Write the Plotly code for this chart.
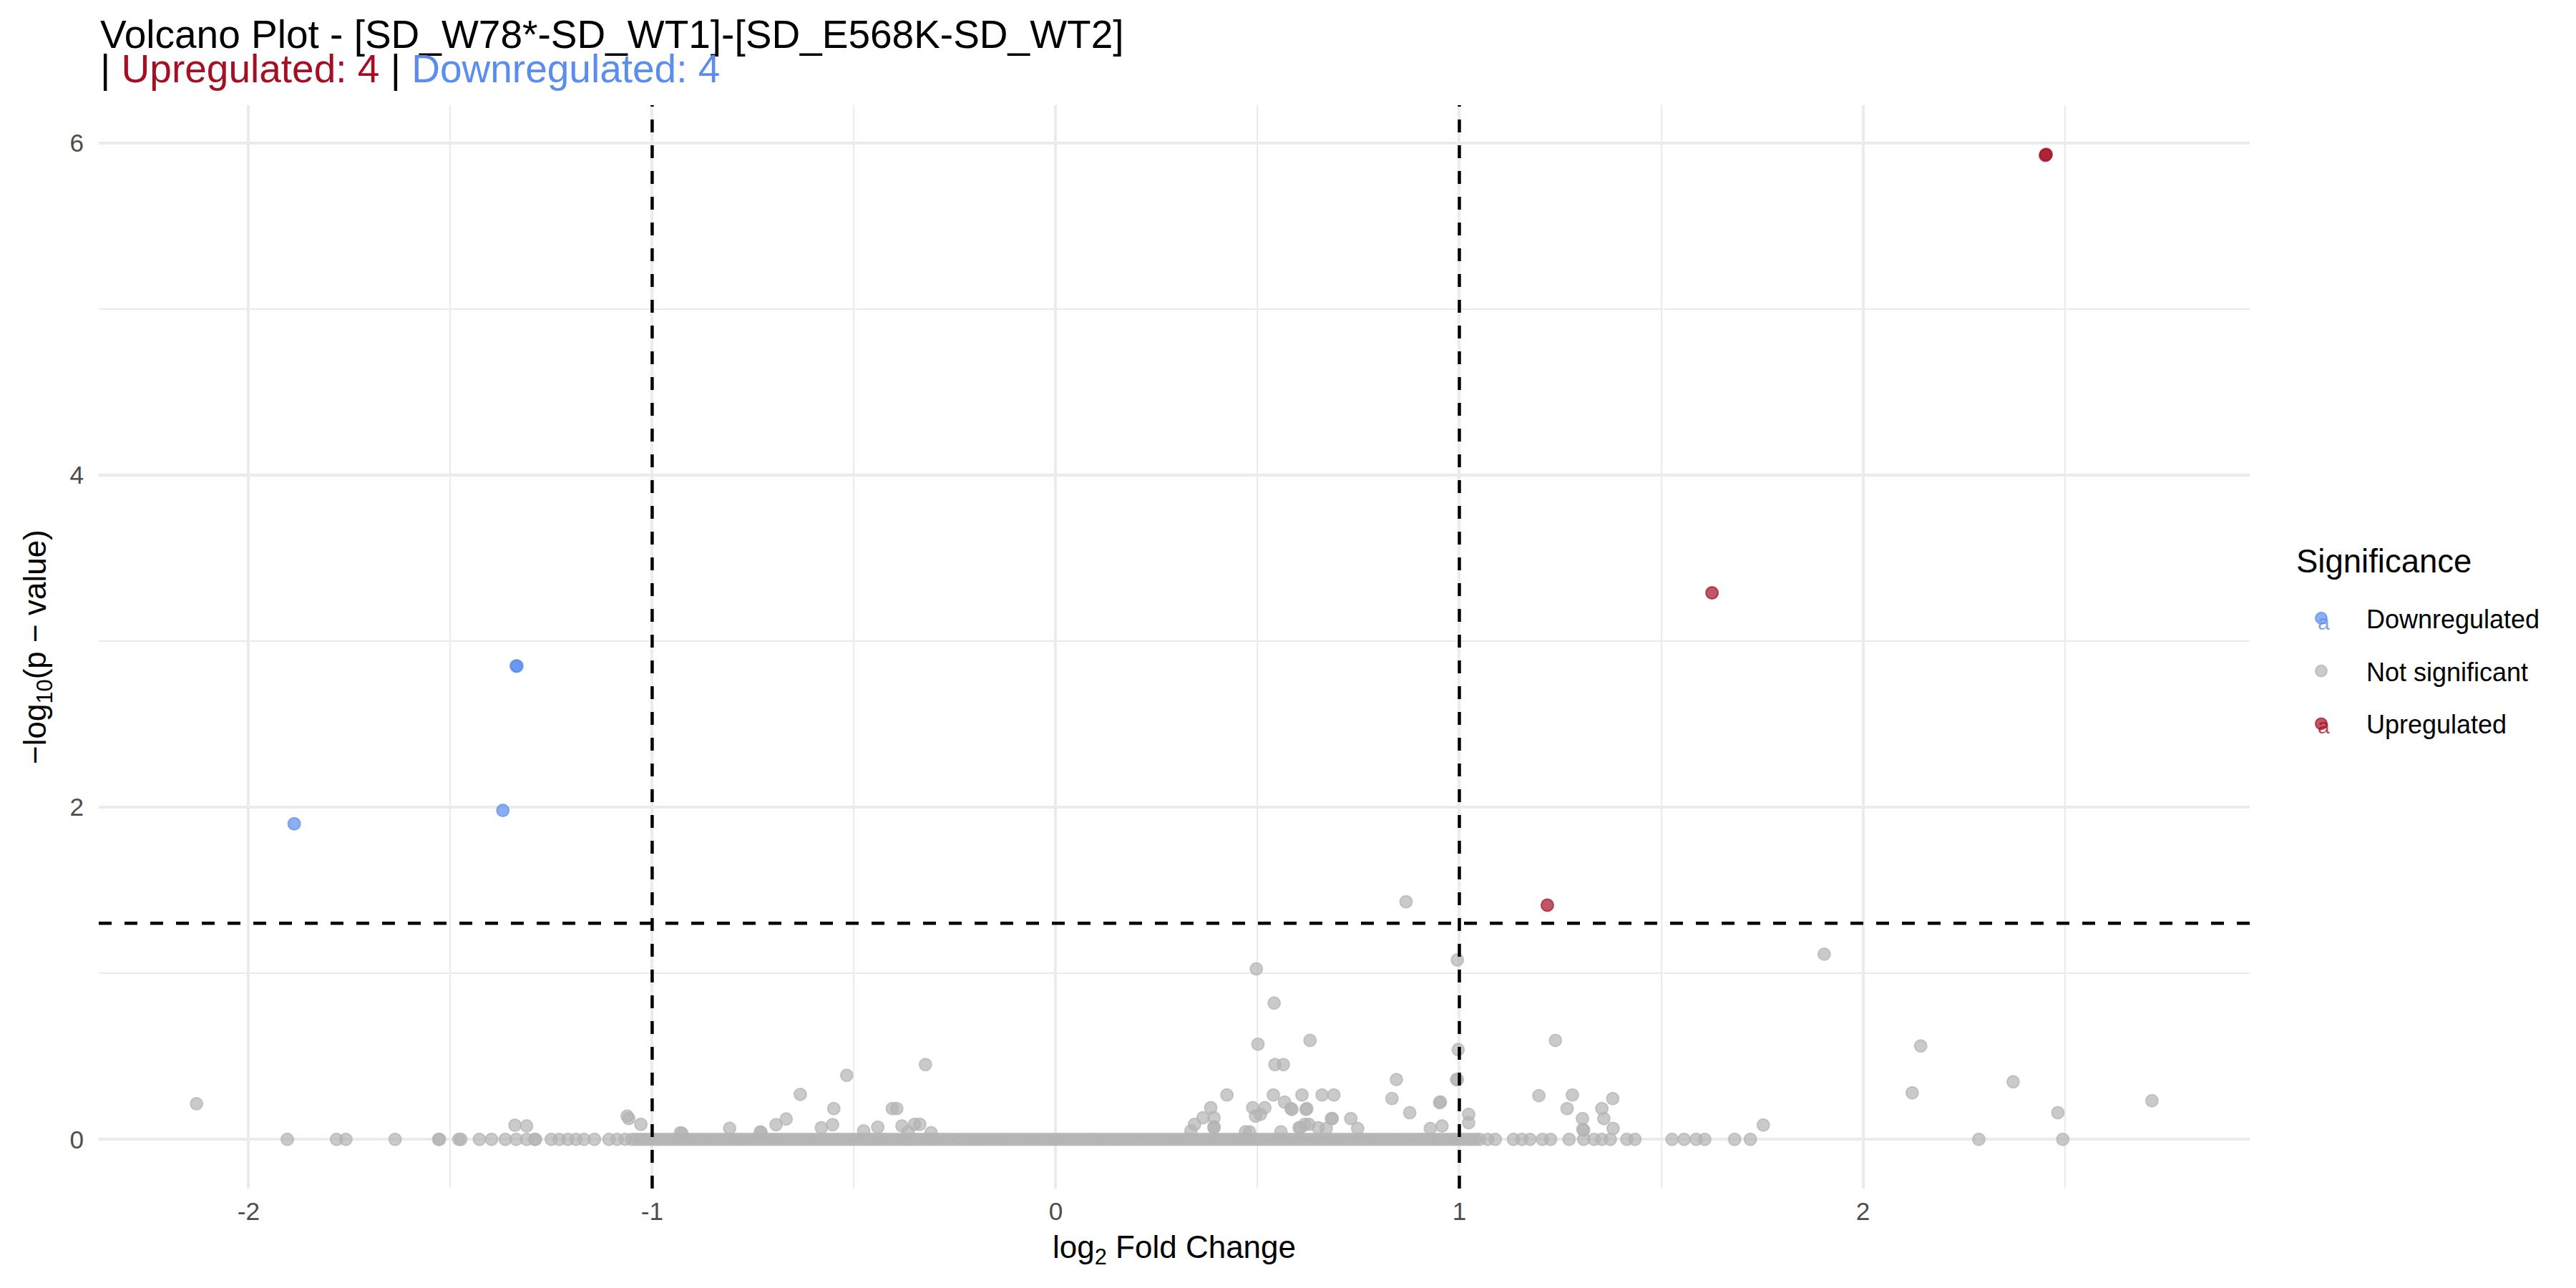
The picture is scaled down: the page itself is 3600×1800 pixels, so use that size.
import plotly.graph_objects as go
import numpy as np

# Thresholds used in the analysis
fc_cutoff = 1.0
p_cutoff = 0.05

# Significant genes
up_log2fc = [2.454, 2.452, 1.626, 1.218]
up_neglogp = [5.93, 5.925, 3.29, 1.41]
down_log2fc = [-1.337, -1.335, -1.370, -1.887]
down_neglogp = [2.85, 2.85, 1.98, 1.90]

# Non significant genes lifted off the baseline
ns_log2fc = [
	-2.129, -1.340, -1.311, -1.062, -1.058, -1.028, -0.926, -0.930, -0.808, -0.730,
	-0.732, -0.693, -0.668, -0.633, -0.581, -0.553, -0.550, -0.518, -0.476, -0.441,
	-0.405, -0.394, -0.381, -0.366, -0.350, -0.337, -0.323, -0.309,
	0.335, 0.344, 0.365, 0.392, 0.392, 0.392, 0.384, 0.424, 0.470, 0.480,
	0.488, 0.495, 0.507, 0.518, 0.497, 0.501, 0.541, 0.543, 0.564, 0.539,
	0.558, 0.567, 0.583, 0.585, 0.603, 0.606, 0.610, 0.617, 0.622, 0.620,
	0.627, 0.630, 0.650, 0.660, 0.670, 0.683, 0.685, 0.689, 0.731, 0.748,
	0.833, 0.844, 0.868, 0.877, 0.928, 0.951, 0.953, 0.957, 0.995, 0.997,
	0.995, 0.993, 1.023, 1.023, 1.197, 1.238, 1.267, 1.280, 1.305, 1.306,
	1.308, 1.353, 1.358, 1.380, 1.381, 1.753, 1.904, 2.122, 2.143, 2.372,
	2.483, 2.716,
]
ns_neglogp = [
	0.214, 0.085, 0.080, 0.140, 0.125, 0.090, 0.035, 0.040, 0.066, 0.040,
	0.045, 0.088, 0.122, 0.270, 0.070, 0.088, 0.185, 0.385, 0.050, 0.073,
	0.185, 0.185, 0.080, 0.045, 0.090, 0.090, 0.450, 0.040,
	0.050, 0.090, 0.130, 0.130, 0.070, 0.075, 0.190, 0.267, 0.045, 0.045,
	0.190, 0.140, 0.150, 0.190, 1.026, 0.573, 0.820, 0.450, 0.450, 0.267,
	0.045, 0.224, 0.185, 0.180, 0.070, 0.070, 0.267, 0.090, 0.185, 0.180,
	0.090, 0.595, 0.070, 0.267, 0.065, 0.125, 0.125, 0.267, 0.125, 0.065,
	0.245, 0.360, 1.430, 0.160, 0.065, 0.221, 0.225, 0.080, 1.080, 0.540,
	0.360, 0.360, 0.150, 0.100, 0.263, 0.595, 0.185, 0.267, 0.125, 0.060,
	0.055, 0.185, 0.125, 0.245, 0.065, 0.086, 1.115, 0.280, 0.562, 0.346,
	0.160, 0.232,
]

# Non significant genes with p-value ~ 1 (sitting on zero)
baseline_log2fc = [
	-1.904, -1.782, -1.759, -1.637, -1.529, -1.527, -1.479, -1.474, -1.428, -1.398,
	-1.364, -1.337, -1.311, -1.291, -1.289, -1.250, -1.230, -1.209, -1.189, -1.169,
	-1.143, -1.107, -1.087, -1.067,
	-1.05, -1.04, -1.03, -1.02, -1.01, -1.00, -0.99, -0.98, -0.97, -0.96,
	-0.95, -0.94, -0.93, -0.92, -0.91, -0.90, -0.89, -0.88, -0.87, -0.86,
	-0.85, -0.84, -0.83, -0.82, -0.81, -0.80, -0.79, -0.78, -0.77, -0.76,
	-0.75, -0.74, -0.73, -0.72, -0.71, -0.70, -0.69, -0.68, -0.67, -0.66,
	-0.65, -0.64, -0.63, -0.62, -0.61, -0.60, -0.59, -0.58, -0.57, -0.56,
	-0.55, -0.54, -0.53, -0.52, -0.51, -0.50, -0.49, -0.48, -0.47, -0.46,
	-0.45, -0.44, -0.43, -0.42, -0.41, -0.40, -0.39, -0.38, -0.37, -0.36,
	-0.35, -0.34, -0.33, -0.32, -0.31, -0.30, -0.29, -0.28, -0.27, -0.26,
	-0.25, -0.24, -0.23, -0.22, -0.21, -0.20, -0.19, -0.18, -0.17, -0.16,
	-0.15, -0.14, -0.13, -0.12, -0.11, -0.10, -0.09, -0.08, -0.07, -0.06,
	-0.05, -0.04, -0.03, -0.02, -0.01, 0.00, 0.01, 0.02, 0.03, 0.04,
	0.05, 0.06, 0.07, 0.08, 0.09, 0.10, 0.11, 0.12, 0.13, 0.14,
	0.15, 0.16, 0.17, 0.18, 0.19, 0.20, 0.21, 0.22, 0.23, 0.24,
	0.25, 0.26, 0.27, 0.28, 0.29, 0.30, 0.31, 0.32, 0.33, 0.34,
	0.35, 0.36, 0.37, 0.38, 0.39, 0.40, 0.41, 0.42, 0.43, 0.44,
	0.45, 0.46, 0.47, 0.48, 0.49, 0.50, 0.51, 0.52, 0.53, 0.54,
	0.55, 0.56, 0.57, 0.58, 0.59, 0.60, 0.61, 0.62, 0.63, 0.64,
	0.65, 0.66, 0.67, 0.68, 0.69, 0.70, 0.71, 0.72, 0.73, 0.74,
	0.75, 0.76, 0.77, 0.78, 0.79, 0.80, 0.81, 0.82, 0.83, 0.84,
	0.85, 0.86, 0.87, 0.88, 0.89, 0.90, 0.91, 0.92, 0.93, 0.94,
	0.95, 0.96, 0.97, 0.98, 0.99, 1.00, 1.01, 1.02, 1.03, 1.04,
	1.05,
	1.070, 1.089, 1.134, 1.155, 1.175, 1.206, 1.226, 1.272, 1.308, 1.334,
	1.353, 1.374, 1.415, 1.435, 1.527, 1.557, 1.587, 1.608, 1.682, 1.721,
	2.287, 2.495,
]

x_tickvals = [-2, -1, 0, 1, 2]
x_ticktext = ['-2', '-1', '0', '1', '2']
y_tickvals = [0, 2, 4, 6]

up_color = '#A50F24'
down_color = '#5B8DEF'
font = 'Liberation Sans'

fig = go.Figure()

all_ns_x = ns_log2fc + baseline_log2fc
all_ns_y = ns_neglogp + [0.0]*len(baseline_log2fc)

for name, xs, ys, color, rank in [
	('Not significant', all_ns_x, all_ns_y, 'rgba(179,179,179,0.7)', 2),
	('Downregulated', down_log2fc, down_neglogp, 'rgba(91,141,239,0.7)', 1),
	('Upregulated', up_log2fc, up_neglogp, 'rgba(165,15,36,0.7)', 3),
]:
	fig.add_trace(go.Scatter(
		x = xs,
		y = ys,
		mode = 'markers',
		name = name,
		legendgroup = name,
		legendrank = rank,
		marker = dict(size=17, color=color, line=dict(color=color, width=2)),
	))

p_line = -np.log10(p_cutoff)
for xv in [-fc_cutoff, fc_cutoff]:
	fig.add_vline(x=xv, line=dict(color='black', width=4.5, dash='18px,18px'))
fig.add_hline(y=p_line, line=dict(color='black', width=4.5, dash='18px,18px'))

x_lo, x_hi = min(all_ns_x + up_log2fc + down_log2fc), max(all_ns_x + up_log2fc + down_log2fc)
y_lo, y_hi = 0.0, max(up_neglogp + down_neglogp + all_ns_y)
x_pad = (x_hi - x_lo)*0.05
y_pad = (y_hi - y_lo)*0.05

grid = '#EBEBEB'
fig.update_xaxes(
	range = [x_lo - x_pad, x_hi + x_pad],
	tickvals = x_tickvals,
	ticktext = x_ticktext,
	showgrid = True, gridcolor = grid, gridwidth = 4.3,
	minor = dict(dtick=0.5, tick0=0.5, showgrid=True, gridcolor=grid, gridwidth=2.2),
	zeroline = False, showline = False, ticks = '',
	tickfont = dict(family=font, size=35.2, color='#4D4D4D'),
	ticklabelstandoff = 8,
)
fig.update_yaxes(
	range = [y_lo - y_pad, y_hi + y_pad],
	tickvals = y_tickvals,
	showgrid = True, gridcolor = grid, gridwidth = 4.3,
	minor = dict(dtick=1, tick0=1, showgrid=True, gridcolor=grid, gridwidth=2.2),
	zeroline = False, showline = False, ticks = '',
	tickfont = dict(family=font, size=35.2, color='#4D4D4D'),
	ticklabelstandoff = 20,
)

n_up = len(up_log2fc)
n_down = len(down_log2fc)

annotations = [
	dict(
		text = 'Volcano Plot - [SD_W78*-SD_WT1]-[SD_E568K-SD_WT2]',
		xref = 'paper', yref = 'paper', x = 0, y = 1.0651,
		xanchor = 'left', yanchor = 'middle', showarrow = False,
		font = dict(size=55, family=font, color='black'),
	),
	dict(
		text = f"| <span style='color:{up_color}'>Upregulated: {n_up}</span> | <span style='color:{down_color}'>Downregulated: {n_down}</span>",
		xref = 'paper', yref = 'paper', x = 0, y = 1.034,
		xanchor = 'left', yanchor = 'middle', showarrow = False,
		font = dict(size=55, family=font, color='black'),
	),
	dict(
		text = 'log<sub>2</sub> Fold Change',
		xref = 'paper', yref = 'paper', x = 0.5, y = -0.0561,
		xanchor = 'center', yanchor = 'middle', showarrow = False,
		font = dict(size=44, family=font, color='black'),
	),
	dict(
		text = '\u2212log<sub>10</sub>(p \u2212 value)',
		xref = 'paper', yref = 'paper', x = -0.0286, y = 0.5,
		xanchor = 'center', yanchor = 'middle', showarrow = False, textangle = -90,
		font = dict(size=44, family=font, color='black'),
	),
	dict(
		text = 'Significance',
		xref = 'paper', yref = 'paper', x = 1.0209, y = 0.5786,
		xanchor = 'left', yanchor = 'middle', showarrow = False,
		font = dict(size=45.5, family=font, color='black'),
	),
]
# the text-label keys that ggplot leaves on the coloured legend entries
for key_y, key_color in [(0.5225, 'rgba(91,141,239,0.8)'), (0.4267, 'rgba(165,15,36,0.8)')]:
	annotations.append(dict(
		text = 'a',
		xref = 'paper', yref = 'paper', x = 1.0343, y = key_y,
		xanchor = 'center', yanchor = 'middle', showarrow = False,
		font = dict(size=30, family=font, color=key_color),
	))

fig.update_layout(
	width = 3600,
	height = 1800,
	paper_bgcolor = 'white',
	plot_bgcolor = 'white',
	margin = dict(l=130, r=464, t=139, b=147),
	font = dict(family=font, color='black'),
	showlegend = True,
	legend = dict(
		font = dict(size=36, family=font),
		x = 1.0123, xanchor = 'left',
		y = 0.5463, yanchor = 'top',
		tracegroupgap = 24,
		itemwidth = 116,
		bgcolor = 'rgba(0,0,0,0)',
	),
	annotations = annotations,
)

fig.write_html('out.html')
